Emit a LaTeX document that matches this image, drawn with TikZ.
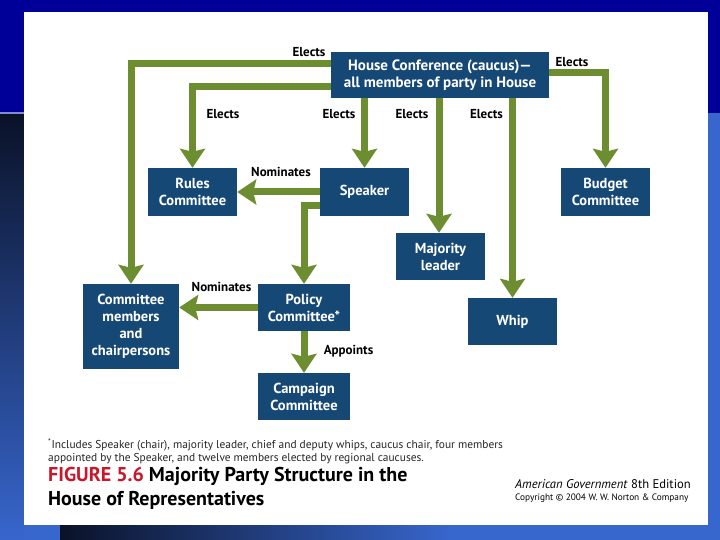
\documentclass[tikz,border=0pt]{standalone}
\usepackage{fontspec}
\setmainfont{PT Sans}
\usetikzlibrary{arrows.meta,calc}
\definecolor{boxc}{RGB}{22,72,118}
\definecolor{grn}{RGB}{108,142,48}
\definecolor{capred}{RGB}{200,22,42}
\definecolor{topblue}{RGB}{0,0,153}
\definecolor{bgblue}{RGB}{55,102,204}
\definecolor{navy}{RGB}{10,18,40}
\definecolor{lline}{RGB}{130,140,210}
\tikzset{
  nbox/.style={fill=boxc, text=white, align=center, inner sep=0pt,
    font=\bfseries\fontsize{14.5}{17}\selectfont},
  lbl/.style={font=\bfseries\fontsize{13}{15}\selectfont, inner sep=0pt},
  arr/.style={draw=grn, line width=7pt, -{Stealth[length=19pt,width=25pt,inset=3pt]}},
  txt/.style={anchor=base west, inner sep=0pt},
}
\begin{document}
\begin{tikzpicture}[x=1pt,y=-1pt]
\useasboundingbox (0,0) rectangle (720,540);
% background
\fill[bgblue] (0,0) rectangle (720,540);
\fill[topblue] (0,0) rectangle (720,113);
\shade[top color=navy, bottom color=bgblue] (0,113) rectangle (24,540);
\shade[left color=navy, right color=bgblue] (60,525) rectangle (450,540);
\draw[lline, line width=1.5pt] (0,113) -- (24,113);
\fill[white] (24,12) rectangle (708,525);

% boxes
\node[nbox, minimum width=218pt, minimum height=46pt, font=\bfseries\fontsize{15}{17}\selectfont] (house) at (440,75) {House Conference (caucus)—\\all members of party in House};
\node[nbox, minimum width=89pt, minimum height=48pt] (rules) at (192.5,192) {Rules\\Committee};
\node[nbox, minimum width=89pt, minimum height=48pt] (speaker) at (364.5,192) {Speaker};
\node[nbox, minimum width=89pt, minimum height=48pt] (budget) at (605.5,192) {Budget\\Committee};
\node[nbox, minimum width=89pt, minimum height=47pt] (majority) at (440.5,256.5) {Majority\\leader};
\node[nbox, minimum width=96pt, minimum height=85pt] (cm) at (131,326.5) {Committee\\members\\and\\chairpersons};
\node[nbox, minimum width=92pt, minimum height=47pt] (policy) at (304,307.5) {Policy\\Committee*};
\node[nbox, minimum width=89pt, minimum height=47pt] (whip) at (512.5,321.5) {Whip};
\node[nbox, minimum width=92pt, minimum height=47pt] (campaign) at (304,396.5) {Campaign\\Committee};

% connectors
\draw[arr] ($(house.west)+(0,-11)$) -| (cm.north);
\draw[arr] ($(house.west)+(0,12)$) -| (rules.north);
\draw[arr] ($(house.east)+(0,-2)$) -| (budget.north);
\draw[arr] (speaker.north |- house.south) -- (speaker.north);
\coordinate (mtop) at ($(majority.north)+(-1.5,0)$);
\draw[arr] (mtop |- house.south) -- (mtop);
\draw[arr] (whip.north |- house.south) -- (whip.north);
\draw[arr] (speaker.west) -- (rules.east);
\draw[arr] ($(speaker.west)+(0,14)$) -| (policy.north);
\draw[arr] (policy.west) -- (policy.west -| cm.east);
\draw[arr] (policy.south) -- (campaign.north);

% labels
\node[lbl] (e1) at (309,52) {Elects};
\node[lbl] (e2) at (572,62) {Elects};
\node[lbl] (e3) at (223,114) {Elects};
\node[lbl] (e4) at (339,114) {Elects};
\node[lbl] (e5) at (412,114) {Elects};
\node[lbl] (e6) at (486.5,114) {Elects};
\node[lbl] (n1) at (281,172) {Nominates};
\node[lbl] (n2) at (221.5,287) {Nominates};
\node[lbl] (a1) at (348.5,351.5) {Appoints};

% footnote and caption
\tikzset{fnfont/.style={txt, text=black!85, font=\fontsize{11.4}{13}\selectfont}}
\node[fnfont] (fn1) at (48,448)
  {\textsuperscript{*}Includes Speaker (chair), majority leader, chief and deputy whips, caucus chair, four members};
\node[fnfont] (fn2) at (48,461)
  {appointed by the Speaker, and twelve members elected by regional caucuses.};
\tikzset{capfont/.style={txt, font=\bfseries\fontsize{20}{24}\selectfont}}
\node[capfont] (cap1) at (48,481)
  {\textcolor{capred}{FIGURE 5.6} Majority Party Structure in the};
\node[capfont] (cap2) at (48,505) {House of Representatives};
\node[txt, font=\fontsize{12.6}{14}\selectfont] (ag) at (515,488)
  {\textit{American Government} 8th Edition};
\node[txt, font=\fontsize{9.3}{11}\selectfont] (cr) at (515,500)
  {Copyright © 2004 W. W. Norton \& Company};
\end{tikzpicture}
\end{document}
